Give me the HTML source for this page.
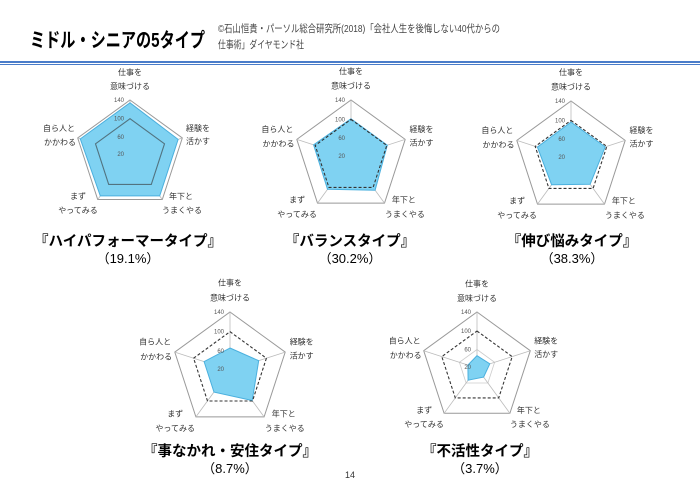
<!DOCTYPE html>
<html><head><meta charset="utf-8"><style>
body{margin:0;background:#fff;}
svg{display:block;font-family:"Liberation Sans","Noto Sans CJK JP",sans-serif;}
</style></head><body>
<svg id="s" width="700" height="495" viewBox="0 0 700 495" xmlns="http://www.w3.org/2000/svg">
<rect width="700" height="495" fill="#fff"/>
<text x="30" y="47" font-size="20" font-weight="bold" fill="#000" textLength="175" lengthAdjust="spacingAndGlyphs">ミドル・シニアの5タイプ</text>
<text x="218" y="32" font-size="10.5" fill="#444" textLength="282" lengthAdjust="spacingAndGlyphs">©石山恒貴・パーソル総合研究所(2018)「会社人生を後悔しない40代からの</text>
<text x="218" y="48" font-size="10.5" fill="#444" textLength="86" lengthAdjust="spacingAndGlyphs">仕事術」ダイヤモンド社</text>
<rect x="0" y="61" width="700" height="2" fill="#4a7cc9"/>
<rect x="0" y="64" width="700" height="1" fill="#4a7cc9"/>
<text x="350" y="478" font-size="9" text-anchor="middle" fill="#333">14</text>
<g id="charts"></g>
</svg>
<script>
const charts=[
 {cx:130,cy:155,R:55,d:[0.95,0.92,0.92,0.92,0.95],solid:true,t:"『ハイパフォーマータイプ』",p:"（19.1%）",tx:128,ty:246},
 {cx:351,cy:157,R:57,d:[0.67,0.67,0.72,0.7,0.69],t:"『バランスタイプ』",p:"（30.2%）",tx:350,ty:246},
 {cx:571,cy:158,R:57,d:[0.63,0.63,0.57,0.58,0.62],t:"『伸び悩みタイプ』",p:"（38.3%）",tx:572,ty:246},
 {cx:230,cy:370,R:58,d:[0.38,0.52,0.65,0.47,0.47],t:"『事なかれ・安住タイプ』",p:"（8.7%）",tx:230,ty:456},
 {cx:477,cy:368,R:56,d:[0.22,0.24,0.2,0.27,0.17],t:"『不活性タイプ』",p:"（3.7%）",tx:480,ty:456}
];
let h="";
function pt(c,i,f){const a=-Math.PI/2+i*2*Math.PI/5;return [c.cx+c.R*f*Math.cos(a),c.cy+c.R*f*Math.sin(a)];}
function poly(c,fs){return fs.map((f,i)=>pt(c,i,f).map(v=>v.toFixed(1)).join(",")).join(" ");}
for(const c of charts){
 h+=`<polygon points="${poly(c,[1,1,1,1,1])}" fill="none" stroke="#999" stroke-width="1"/>`;
 h+=`<polygon points="${poly(c,[0.33,0.33,0.33,0.33,0.33])}" fill="none" stroke="#ccc" stroke-width="0.8"/>`;
 for(let i=0;i<5;i++){const p=pt(c,i,1);h+=`<line x1="${c.cx}" y1="${c.cy}" x2="${p[0].toFixed(1)}" y2="${p[1].toFixed(1)}" stroke="#bbb" stroke-width="0.8"/>`;}
 h+=`<polygon points="${poly(c,c.d)}" fill="#7fd2f2" stroke="#4ab0de" stroke-width="1"/>`;
 h+=`<polygon points="${poly(c,[0.66,0.66,0.66,0.66,0.66])}" fill="none" stroke="#333" stroke-width="1.1" ${c.solid?'stroke-opacity="0.6"':'stroke-dasharray="3,2"'}/>`;
 [["140",1],["100",0.66],["60",0.33],["20",0.02]].forEach(([v,f])=>{h+=`<text x="${c.cx-6}" y="${(c.cy-c.R*f+2).toFixed(1)}" font-size="6" text-anchor="end" fill="#555">${v}</text>`;});
 const L=[[0,-80,"仕事を"],[0,-66,"意味づける"],[68,-24,"経験を"],[68,-11,"活かす"],[51,44,"年下と"],[52,58,"うまくやる"],[-52,44,"まず"],[-52,58,"やってみる"],[-71,-24,"自ら人と"],[-70,-10,"かかわる"]];
 const k=c.R/55;
 for(const [dx,dy,s] of L){h+=`<text x="${(c.cx+dx*k).toFixed(1)}" y="${(c.cy+dy*k).toFixed(1)}" font-size="8" text-anchor="middle" fill="#333">${s}</text>`;}
 h+=`<text x="${c.tx}" y="${c.ty}" font-size="14.5" font-weight="bold" text-anchor="middle" fill="#000">${c.t}</text>`;
 h+=`<text x="${c.tx}" y="${c.ty+17}" font-size="13" text-anchor="middle" fill="#000">${c.p}</text>`;
}
document.getElementById("charts").innerHTML=h;
</script>
</body></html>
